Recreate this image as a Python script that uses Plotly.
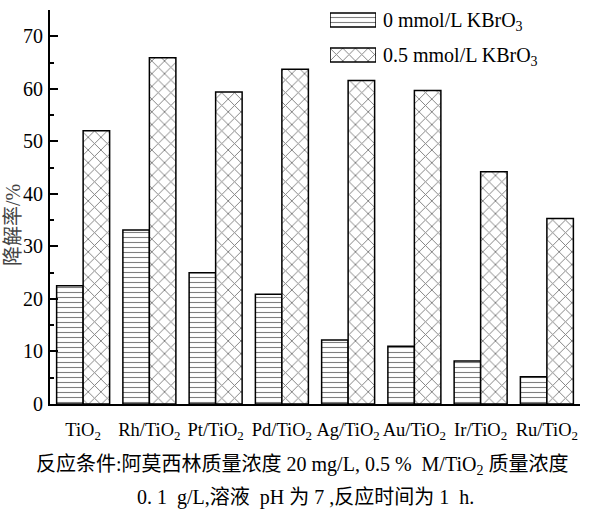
import plotly.graph_objects as go

categories = ["TiO<sub>2</sub>", "Rh/TiO<sub>2</sub>", "Pt/TiO<sub>2</sub>", "Pd/TiO<sub>2</sub>",
              "Ag/TiO<sub>2</sub>", "Au/TiO<sub>2</sub>", "Ir/TiO<sub>2</sub>", "Ru/TiO<sub>2</sub>"]
series_0 = [22.5, 33.1, 25.0, 20.9, 12.2, 11.0, 8.2, 5.2]
series_05 = [52.0, 65.9, 59.4, 63.7, 61.6, 59.7, 44.2, 35.3]
legend_names = ["0 mmol/L KBrO<sub>3</sub>", "0.5 mmol/L KBrO<sub>3</sub>"]
y_label = "降解率/%"
caption1 = "反应条件:阿莫西林质量浓度 20 mg/L, 0.5 %  M/TiO<sub>2</sub> 质量浓度"
caption2 = "0. 1  g/L,溶液  pH 为 7 ,反应时间为 1  h."

FONT = "Liberation Serif, Noto Sans CJK SC, serif"
pat_h = dict(shape="-", fgcolor="black", bgcolor="white", size=5, solidity=0.22)
pat_x = dict(shape="x", fgcolor="black", bgcolor="white", size=9, solidity=0.2)
line = dict(color="black", width=1.5)

fig = go.Figure()
fig.add_trace(go.Bar(x=categories, y=series_0, marker=dict(color="white", pattern=pat_h, line=line),
                     showlegend=False))
fig.add_trace(go.Bar(x=categories, y=series_05, marker=dict(color="white", pattern=pat_x, line=line),
                     showlegend=False))

# legend swatches on an overlay axis
fig.add_trace(go.Bar(x=[1], y=[1], orientation="h", width=0.4, marker=dict(color="white", pattern=pat_h, line=line),
                     xaxis="x2", yaxis="y2", showlegend=False, hoverinfo="skip"))
fig.add_trace(go.Bar(x=[1], y=[0], orientation="h", width=0.4, marker=dict(color="white", pattern=pat_x, line=line),
                     xaxis="x2", yaxis="y2", showlegend=False, hoverinfo="skip"))

W, H = 590, 515
L, R, T, B = 50, 10, 10, 111
pw, ph = W - L - R, H - T - B

def xd(px):
    return (px - L) / pw

def yd(py):
    return (H - B - py) / ph

fig.update_layout(
    width=W, height=H,
    margin=dict(l=L, r=R, t=T, b=B),
    paper_bgcolor="white", plot_bgcolor="white",
    barmode="group", bargap=0.2, bargroupgap=0,
    font=dict(family=FONT, size=16, color="black"),
    xaxis=dict(showline=True, linecolor="black", linewidth=2, ticks="", showgrid=False,
               tickfont=dict(size=18.5), zeroline=False, ticklabelstandoff=8),
    yaxis=dict(range=[0, 75], showline=True, linecolor="black", linewidth=2, showgrid=False,
               zeroline=False, dtick=10, ticks="inside", ticklen=8, tickwidth=2, tickcolor="black",
               tickfont=dict(size=20), ticklabelstandoff=1,
               minor=dict(dtick=5, ticks="inside", ticklen=4, tickwidth=1.5, tickcolor="black")),
    xaxis2=dict(domain=[xd(330), xd(376)], range=[0, 1], visible=False, anchor="y2"),
    yaxis2=dict(domain=[yd(70), yd(10)], range=[-15 / 35, 1 + 10 / 35], visible=False, anchor="x2"),
    showlegend=False,
)

fig.add_annotation(text=legend_names[0], x=xd(381), y=yd(22), xref="paper", yref="paper",
                   xanchor="left", yanchor="middle", showarrow=False, font=dict(size=20))
fig.add_annotation(text=legend_names[1], x=xd(381), y=yd(57), xref="paper", yref="paper",
                   xanchor="left", yanchor="middle", showarrow=False, font=dict(size=20))
fig.add_annotation(text=y_label, x=xd(13), y=yd(225), xref="paper", yref="paper", textangle=-90,
                   xanchor="center", yanchor="middle", showarrow=False, font=dict(size=20, color="#444"))
fig.add_annotation(text=caption1, x=xd(302), y=yd(466), xref="paper", yref="paper",
                   xanchor="center", yanchor="middle", showarrow=False, font=dict(size=20))
fig.add_annotation(text=caption2, x=xd(305), y=yd(497), xref="paper", yref="paper",
                   xanchor="center", yanchor="middle", showarrow=False, font=dict(size=20))

fig.write_html("out.html")
